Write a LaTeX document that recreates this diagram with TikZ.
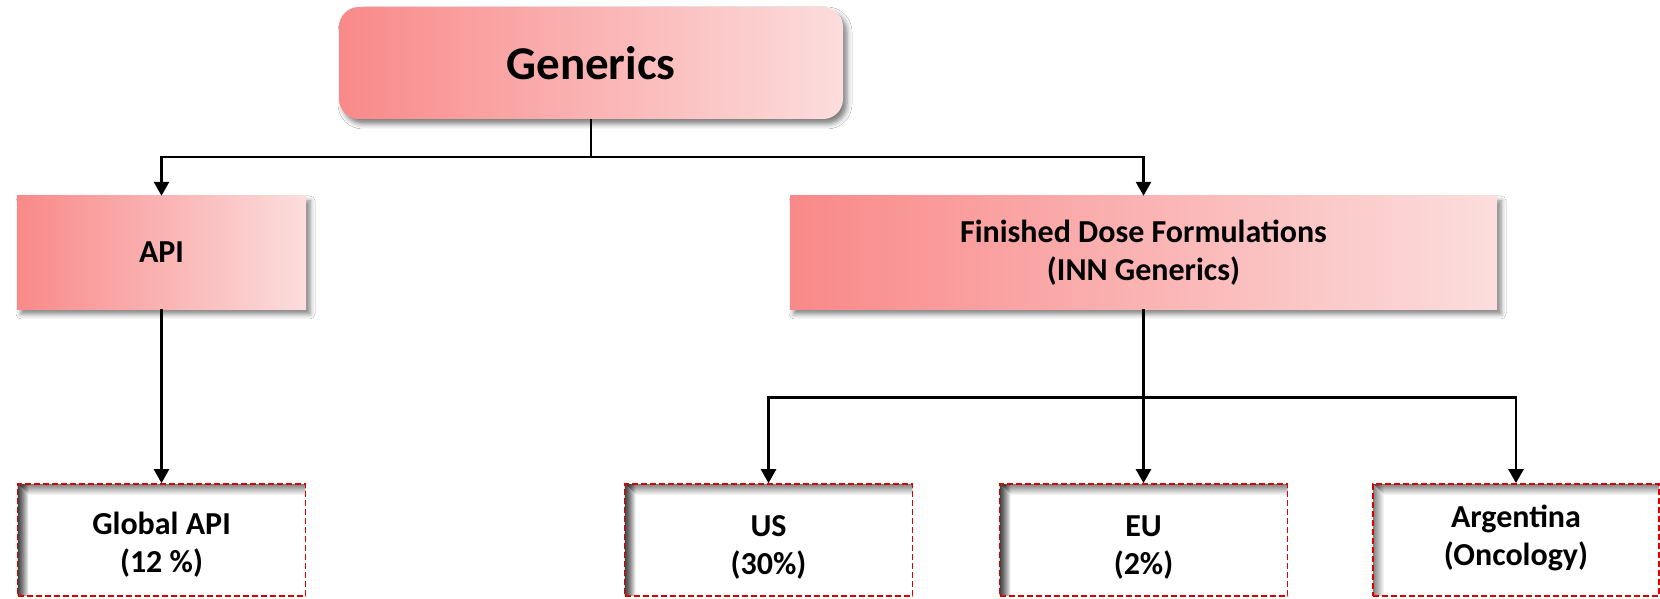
\documentclass[tikz,border=0pt]{standalone}
\usepackage{fontspec}
\setmainfont{Carlito}
\usetikzlibrary{arrows.meta,shadows.blur}
\definecolor{pinkL}{RGB}{249,137,137}
\definecolor{pinkR}{RGB}{252,221,221}
\definecolor{dashred}{RGB}{222,0,0}
\newcommand{\leaftext}[3]{\raisebox{#1}[\height][\depth]{\begin{tabular}{@{}c@{}}#2\\#3\end{tabular}}}
\tikzset{
  pinkbox/.style={shape=rectangle, left color=pinkL, right color=pinkR, draw=none,
    blur shadow={shadow xshift=4pt, shadow yshift=-5pt, shadow blur radius=5pt, shadow opacity=50},
    align=center, inner sep=0pt, font=\bfseries\fontsize{32}{38}\selectfont},
  leafbox/.style={shape=rectangle, fill=white, draw=dashred, line width=1.7pt,
    dash pattern=on 6pt off 3pt, minimum width=288pt, minimum height=112pt,
    inner sep=0pt, font=\bfseries\fontsize{32}{38}\selectfont,
    path picture={
      \foreach \i in {0,...,10}{
        \draw[black, line width=1.1pt, draw opacity={0.5*(1-\i/11)}, solid]
          ([xshift={\i*1pt+0.5pt}]path picture bounding box.north west) --
          ([xshift={\i*1pt+0.5pt}]path picture bounding box.south west);
        \draw[black, line width=1.1pt, draw opacity={0.5*(1-\i/11)}, solid]
          ([xshift={\i*1pt+1pt},yshift={-\i*1pt-0.5pt}]path picture bounding box.north west) --
          ([yshift={-\i*1pt-0.5pt}]path picture bounding box.north east);
      }
    }},
  conn/.style={draw=black, line width=2.6pt},
  arr/.style={conn, -{Triangle[width=15pt,length=14pt]}}
}
\begin{document}
\begin{tikzpicture}[x=1pt,y=1pt]
\useasboundingbox[fill=white] (0,0) rectangle (1660,598);
% top node
\node[pinkbox, rounded corners=20pt, minimum width=504pt, minimum height=112pt,
      font=\bfseries\fontsize{47}{52}\selectfont] (gen) at (591,535) {Generics};
% second level
\node[pinkbox, minimum width=289pt, minimum height=113pt] (api) at (161.5,345.5) {API};
\node[pinkbox, minimum width=707pt, minimum height=113pt] (fdf) at (1143.5,345.5)
  {Finished Dose Formulations\\(INN Generics)};
% leaves
\node[leafbox] (gapi) at (161.5,58) {\leaftext{-6pt}{Global API}{(12 \%)}};
\node[leafbox] (us) at (768.5,58) {\leaftext{-8pt}{US}{(30\%)}};
\node[leafbox] (eu) at (1143.5,58) {\leaftext{-8pt}{EU}{(2\%)}};
\node[leafbox, minimum width=286pt] (arg) at (1516,58) {\leaftext{1pt}{Argentina}{(Oncology)}};
% connectors
\draw[conn] (gen.south) -- ++(0,-38) coordinate (j1);
\draw[arr] (j1) -| (api.north);
\draw[arr] (j1) -| (fdf.north);
\draw[arr] (api.south) -- (gapi.north);
\draw[conn] (fdf.south) -- ++(0,-88) coordinate (j2);
\draw[arr] (j2) -| (us.north);
\draw[arr] (j2) -- (eu.north);
\draw[arr] (j2) -| (arg.north);
\end{tikzpicture}
\end{document}
